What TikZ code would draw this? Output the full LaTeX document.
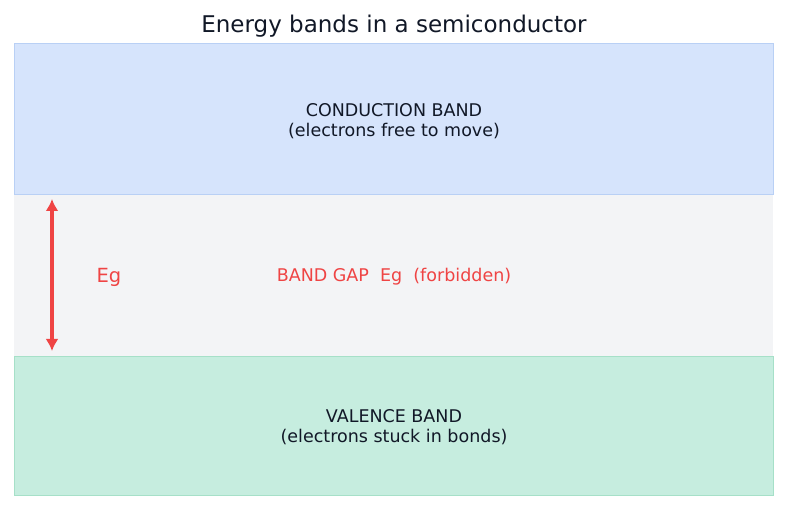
\documentclass[tikz,border=0pt]{standalone}
\usepackage{fontspec}
\setmainfont{DejaVu Sans}
\usetikzlibrary{arrows.meta,positioning}
\definecolor{CondClr}{HTML}{D6E4FC}
\definecolor{CondLine}{HTML}{B9D0F5}
\definecolor{GapClr}{HTML}{F3F4F6}
\definecolor{ValClr}{HTML}{C6EDDF}
\definecolor{ValLine}{HTML}{A6E0C8}
\definecolor{GapRed}{HTML}{EF4444}
\definecolor{TextClr}{HTML}{111827}

\begin{document}
\begin{tikzpicture}[x=1pt,y=-1pt,
  bandtext/.style={font=\fontsize{17.5}{20}\selectfont,text=TextClr,align=center},
  gaptext/.style={font=\fontsize{17.5}{20}\selectfont,text=GapRed}]
\useasboundingbox (0,0) rectangle (787,510);

% bands
\fill[GapClr] (14,194) rectangle (773,356);
\draw[CondLine,fill=CondClr,line width=0.6pt] (14,43) rectangle (773,194);
\draw[ValLine,fill=ValClr,line width=0.6pt] (14,356) rectangle (773,495);

\node[font=\fontsize{23}{27}\selectfont,text=TextClr] (title) at (394,26) {Energy bands in a semiconductor};

\node[bandtext] (cond) at (394,121) {CONDUCTION BAND\\(electrons free to move)};
\node[bandtext] (val) at (394,427) {VALENCE BAND\\(electrons stuck in bonds)};
\node[gaptext] (gap) at (394,277) {BAND GAP\ \ Eg\ \ (forbidden)};

% gap energy arrow
\coordinate (top) at (52,199);
\coordinate (bot) at (52,351);
\draw[GapRed,line width=3.5pt,{Latex[length=12pt,width=13pt]}-{Latex[length=12pt,width=13pt]}] (top) -- (bot);
\node[gaptext,font=\fontsize{19.5}{22}\selectfont] (eg) at (109,277) {Eg};

\end{tikzpicture}
\end{document}
